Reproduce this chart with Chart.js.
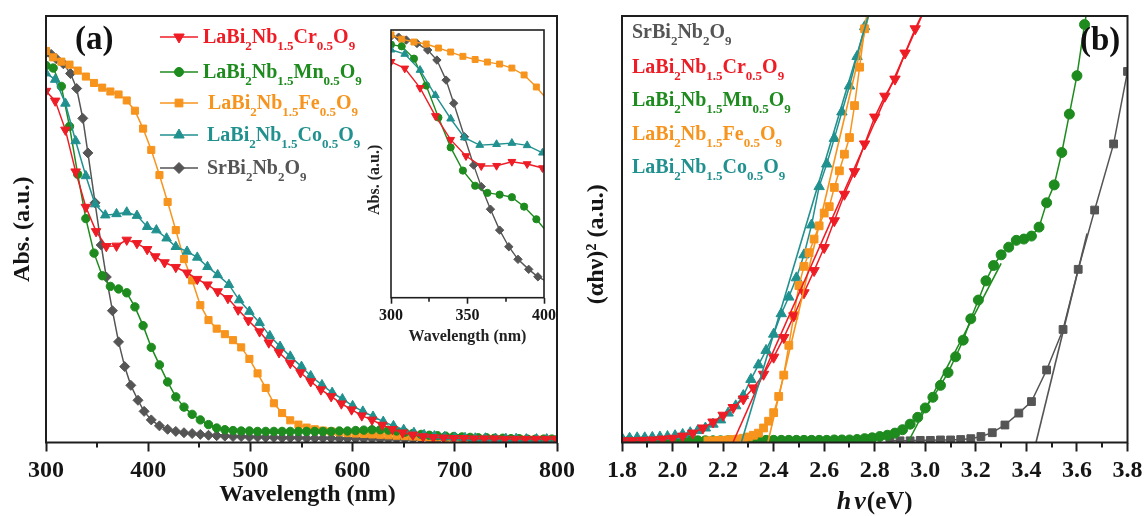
<!DOCTYPE html>
<html><head><meta charset="utf-8">
<script src="https://cdn.jsdelivr.net/npm/chart.js@4.4.1/dist/chart.umd.min.js"></script>
<style>
html,body{margin:0;padding:0;background:#fff;overflow:hidden;width:1144px;height:516px;}
canvas{position:absolute;}
#ca{left:0;top:0;} #cb{left:575px;top:0;} #ci{left:350px;top:0;}
</style></head><body>
<canvas id="ca" width="580" height="516"></canvas>
<canvas id="cb" width="575" height="516"></canvas>
<canvas id="ci" width="215" height="360"></canvas>
<script>
// ---------- Panel (a): absorbance vs wavelength ----------
const aSrX = [300,305,310,317,324,330,336,341,348,354,359,365,371,377,383,390,396,403,411,419,427,435,443,451,459,467,475,483,491,499,507,515,523,531,539,547,555,563,571,579,587,595,603,611,619,627,635,643,651,659,667,675,683,691,699,707,715,723,731,739,747,755,763,771,779,787,795];
const aSrY = [0.913,0.910,0.900,0.888,0.865,0.830,0.760,0.679,0.562,0.463,0.388,0.309,0.236,0.178,0.134,0.099,0.073,0.053,0.039,0.031,0.026,0.023,0.021,0.019,0.017,0.016,0.015,0.014,0.014,0.013,0.013,0.012,0.012,0.011,0.011,0.011,0.010,0.010,0.010,0.010,0.009,0.009,0.009,0.009,0.009,0.008,0.008,0.008,0.008,0.008,0.008,0.007,0.007,0.007,0.007,0.007,0.007,0.007,0.006,0.006,0.006,0.006,0.006,0.006,0.006,0.006,0.006];

const aMnX = [300,307,315,323,331,339,347,355,363,371,379,387,395,403,411,419,427,435,443,451,459,467,475,483,491,499,507,515,523,531,539,547,555,563,571,579,587,595,603,611,619,627,635,643,651,659,667,675,683,691,699,707,715,723,731,739,747,755,763,771,779,787,795];
const aMnY = [0.884,0.878,0.835,0.741,0.629,0.525,0.444,0.391,0.366,0.360,0.351,0.318,0.274,0.223,0.182,0.142,0.107,0.083,0.066,0.053,0.042,0.034,0.030,0.028,0.027,0.027,0.026,0.026,0.026,0.026,0.026,0.026,0.026,0.026,0.026,0.026,0.027,0.027,0.028,0.029,0.030,0.030,0.029,0.027,0.024,0.021,0.019,0.017,0.016,0.015,0.014,0.013,0.012,0.011,0.011,0.010,0.010,0.009,0.009,0.008,0.008,0.008,0.008];

const aFeX = [300,307,315,323,331,339,347,355,363,371,379,387,395,403,411,419,427,435,443,451,459,467,475,483,491,499,507,515,523,531,539,547,555,563,571,579,587,595,603,611,619,627,635,643,651,659,667,675,683,691,699,707,715,723,731,739,747,755,763,771,779,787,795];
const aFeY = [0.918,0.903,0.893,0.886,0.872,0.858,0.843,0.832,0.823,0.816,0.802,0.778,0.736,0.686,0.627,0.564,0.498,0.430,0.380,0.322,0.287,0.267,0.254,0.240,0.223,0.196,0.162,0.128,0.092,0.069,0.052,0.042,0.035,0.031,0.028,0.026,0.024,0.022,0.021,0.020,0.019,0.018,0.017,0.016,0.015,0.014,0.013,0.012,0.012,0.011,0.011,0.010,0.010,0.009,0.009,0.009,0.008,0.008,0.008,0.007,0.007,0.007,0.007];

const aCrX = [300,309,319,329,339,349,359,369,379,389,399,407,416,427,438,448,458,468,478,488,498,509,518,528,539,549,559,569,579,589,599,609,619,629,639,649,659,669,679,689,699,709,719,729,739,749,759,769,779,789,799];
const aCrY = [0.824,0.801,0.733,0.635,0.552,0.495,0.460,0.461,0.475,0.467,0.453,0.436,0.422,0.411,0.398,0.383,0.370,0.354,0.338,0.311,0.286,0.260,0.234,0.211,0.186,0.164,0.143,0.124,0.108,0.091,0.077,0.063,0.053,0.041,0.031,0.023,0.018,0.014,0.012,0.011,0.010,0.010,0.009,0.009,0.009,0.008,0.008,0.008,0.008,0.008,0.008];

const aCoX = [300,309,319,329,339,348,358,369,379,389,399,408,418,427,438,448,458,468,479,489,499,509,519,529,539,550,559,570,580,590,600,610,620,630,640,650,660,670,680,690,700,710,720,730,740,750,760,770,780,790,800];
const aCoY = [0.866,0.851,0.795,0.707,0.625,0.559,0.533,0.536,0.540,0.532,0.506,0.498,0.479,0.459,0.448,0.434,0.412,0.393,0.370,0.334,0.307,0.281,0.250,0.225,0.202,0.178,0.156,0.135,0.117,0.102,0.086,0.073,0.061,0.049,0.039,0.030,0.023,0.018,0.015,0.013,0.012,0.011,0.010,0.010,0.009,0.009,0.009,0.008,0.008,0.008,0.008];

const aTicksMinor = [350,450,550,650,750];
const insetTicksMinor = [325,375];

// ---------- Panel (b): Tauc plot ----------
const bCoX = [1.80,1.83,1.86,1.89,1.92,1.95,1.98,2.01,2.04,2.07,2.10,2.13,2.16,2.19,2.22,2.25,2.28,2.31,2.34,2.37,2.40,2.43,2.46,2.49,2.52,2.55,2.58,2.61,2.64,2.67,2.70,2.73,2.76,2.79];
const bCoY = [0.010,0.010,0.011,0.011,0.012,0.013,0.014,0.016,0.019,0.023,0.028,0.034,0.043,0.053,0.069,0.086,0.110,0.148,0.182,0.216,0.254,0.302,0.341,0.386,0.440,0.510,0.600,0.653,0.713,0.775,0.836,0.905,0.975,1.040];

const bCrX = [1.80,1.84,1.88,1.92,1.96,2.00,2.04,2.08,2.12,2.16,2.20,2.24,2.28,2.32,2.36,2.40,2.44,2.48,2.52,2.56,2.60,2.64,2.68,2.72,2.76,2.80,2.84,2.88,2.92,2.96,3.00];
const bCrY = [0.004,0.004,0.005,0.006,0.008,0.010,0.015,0.022,0.034,0.048,0.064,0.082,0.102,0.128,0.160,0.200,0.246,0.297,0.351,0.403,0.457,0.520,0.582,0.635,0.700,0.763,0.812,0.852,0.913,0.970,1.020];

const bFeX = [2.14,2.16,2.18,2.20,2.22,2.24,2.26,2.28,2.30,2.32,2.34,2.36,2.38,2.40,2.42,2.44,2.46,2.48,2.50,2.52,2.54,2.56,2.58,2.60,2.62,2.64,2.66,2.68,2.70,2.72,2.74,2.76,2.78];
const bFeY = [0.004,0.004,0.005,0.005,0.006,0.007,0.008,0.010,0.013,0.017,0.022,0.034,0.050,0.070,0.108,0.158,0.228,0.298,0.368,0.413,0.445,0.477,0.508,0.538,0.553,0.598,0.637,0.676,0.715,0.790,0.880,0.970,1.050];

const bMnX = [1.80,1.83,1.86,1.89,1.92,1.95,1.98,2.01,2.04,2.07,2.10,2.13,2.16,2.19,2.22,2.25,2.28,2.31,2.34,2.37,2.40,2.43,2.46,2.49,2.52,2.55,2.58,2.61,2.64,2.67,2.70,2.73,2.76,2.79,2.82,2.85,2.88,2.91,2.94,2.97,3.00,3.03,3.06,3.09,3.12,3.15,3.18,3.21,3.24,3.27,3.30,3.33,3.36,3.39,3.42,3.45,3.48,3.51,3.54,3.57,3.60,3.63,3.66];
const bMnY = [0.004,0.004,0.004,0.004,0.004,0.004,0.004,0.004,0.004,0.004,0.004,0.004,0.004,0.004,0.004,0.004,0.004,0.004,0.005,0.005,0.005,0.005,0.005,0.005,0.005,0.005,0.005,0.005,0.006,0.006,0.006,0.007,0.009,0.011,0.014,0.017,0.022,0.030,0.043,0.059,0.081,0.106,0.134,0.164,0.201,0.240,0.290,0.334,0.379,0.415,0.440,0.458,0.474,0.477,0.484,0.505,0.562,0.604,0.680,0.770,0.860,0.980,1.080];

const bSrX = [2.86,2.90,2.94,2.98,3.02,3.06,3.10,3.14,3.18,3.22,3.265,3.315,3.37,3.42,3.48,3.545,3.605,3.67,3.745,3.80];
const bSrY = [0.004,0.004,0.004,0.005,0.005,0.006,0.006,0.007,0.009,0.014,0.023,0.041,0.069,0.096,0.170,0.265,0.406,0.545,0.700,0.870];

// linear fits (band-gap extrapolation): [x0, x1], [y0, y1]
const fitCoX = [2.272, 2.775], fitCoY = [0, 1.0];
const fitCrX = [2.239, 2.986], fitCrY = [0, 1.0];
const fitFeX = [2.377, 2.775], fitFeY = [0, 1.0];
const fitMnX = [2.931, 3.300], fitMnY = [0, 0.42];
const fitSrX = [3.438, 3.640], fitSrY = [0, 0.49];

const bTicksMinor = [1.9,2.1,2.3,2.5,2.7,2.9,3.1,3.3,3.5,3.7];

const legendA = ['LaBi_{2}Nb_{1.5}Cr_{0.5}O_{9}','LaBi_{2}Nb_{1.5}Mn_{0.5}O_{9}','LaBi_{2}Nb_{1.5}Fe_{0.5}O_{9}','LaBi_{2}Nb_{1.5}Co_{0.5}O_{9}','SrBi_{2}Nb_{2}O_{9}'];
const legendB = ['SrBi_{2}Nb_{2}O_{9}','LaBi_{2}Nb_{1.5}Cr_{0.5}O_{9}','LaBi_{2}Nb_{1.5}Mn_{0.5}O_{9}','LaBi_{2}Nb_{1.5}Fe_{0.5}O_{9}','LaBi_{2}Nb_{1.5}Co_{0.5}O_{9}'];

// ---------- styling ----------
const SERIF = "'Liberation Serif','Times New Roman',serif";
Chart.defaults.font.family = SERIF;
Chart.defaults.color = '#151515';
const COL = {cr:'#ee1c25', mn:'#1e8b1e', fe:'#f7941d', co:'#21918f', sr:'#555555'};
const INK = '#1e1e1e';

function pts(xs, ys){ return xs.map((x,i)=>({x:x, y:ys[i]})); }
function series(label, xs, ys, color, style, r, rot, bw){
  return {label, data: pts(xs,ys), borderColor: color, backgroundColor: color,
    pointBackgroundColor: color, pointBorderColor: color, pointStyle: style,
    pointRadius: r, pointHoverRadius: r, pointRotation: rot||0, pointBorderWidth: 1,
    borderWidth: bw||1.5, tension: 0};
}
function fitLine(label, xs, ys, color){
  return {label, data: pts(xs,ys), borderColor: color, backgroundColor: color, pointRadius: 0, borderWidth: 1.6, tension: 0};
}
function parseRich(s){
  const out=[]; const re=/_\{([^}]*)\}/g; let last=0, m;
  while((m=re.exec(s))){ if(m.index>last) out.push({t:s.slice(last,m.index)}); out.push({t:m[1],sub:true}); last=re.lastIndex; }
  if(last<s.length) out.push({t:s.slice(last)});
  return out;
}
function drawRich(ctx, x, y, str, size, subSize, color, subDy){
  let cx=x; ctx.fillStyle=color; ctx.textBaseline='alphabetic'; ctx.textAlign='left';
  parseRich(str).forEach(s=>{
    ctx.font = 'bold '+(s.sub?subSize:size)+'px '+SERIF;
    ctx.fillText(s.t, cx, y+(s.sub?subDy:0));
    cx += ctx.measureText(s.t).width;
  });
}
function marker(ctx, style, r, rot, x, y, color){
  ctx.save(); ctx.fillStyle=color; ctx.strokeStyle=color; ctx.lineWidth=1;
  Chart.helpers.drawPoint(ctx, {pointStyle:style, radius:r, rotation:rot||0, borderWidth:1}, x, y);
  ctx.restore();
}
const framePlugin = {
  id:'frame',
  afterDatasetsDraw(chart, args, o){
    const {ctx, chartArea:a} = chart; const xs = chart.scales.x;
    ctx.save(); ctx.strokeStyle=INK; ctx.lineWidth=o.lw;
    ctx.strokeRect(a.left, a.top, a.right-a.left, a.bottom-a.top);
    ctx.beginPath();
    (o.minor||[]).forEach(v=>{ const p=Math.round(xs.getPixelForValue(v)); ctx.moveTo(p,a.bottom); ctx.lineTo(p,a.bottom+o.minorLen); });
    ctx.stroke(); ctx.restore();
  }
};
function xAxis(min,max,step,size,tl,h,title,tpad,fmt,lw){
  return {type:'linear', min, max, position:'bottom',
    afterFit: s=>{ s.height=h; },
    ticks:{stepSize:step, font:{size, weight:'bold'}, color:'#151515', padding:tpad, maxRotation:0, autoSkip:false, callback: fmt||(v=>String(v))},
    grid:{display:true, drawOnChartArea:false, drawTicks:true, tickLength:tl, tickWidth:lw, tickColor:INK},
    border:{display:false},
    title: title};
}
function yAxis(min,max,w,title){
  return {type:'linear', min, max, afterFit: s=>{ s.width=w; },
    ticks:{display:false}, grid:{display:false}, border:{display:false}, title: title};
}
const baseOpts = {responsive:false, animation:false, devicePixelRatio:1, events:[],
  plugins:{legend:{display:false}, tooltip:{enabled:false}}};

// ---------- chart (a) ----------
const legendAStyle = [
  {c:COL.cr, s:'triangle', r:6, rot:180, tx:203, my:37},
  {c:COL.mn, s:'circle', r:4.5, rot:0, tx:203, my:72},
  {c:COL.fe, s:'rect', r:5.5, rot:0, tx:208, my:103},
  {c:COL.co, s:'triangle', r:6, rot:0, tx:207, my:135},
  {c:COL.sr, s:'rectRot', r:5.5, rot:0, tx:207, my:168}
];
const annotA = {id:'annotA', afterDraw(chart){
  const ctx=chart.ctx; ctx.save();
  legendA.forEach((t,i)=>{
    const st=legendAStyle[i];
    ctx.strokeStyle=st.c; ctx.lineWidth=1.6; ctx.beginPath(); ctx.moveTo(160,st.my); ctx.lineTo(198,st.my); ctx.stroke();
    marker(ctx, st.s, st.r, st.rot, 179, st.my, st.c);
    drawRich(ctx, st.tx, st.my+6, t, 20, 13, st.c, 7);
  });
  ctx.font='bold 33px '+SERIF; ctx.fillStyle='#111'; ctx.fillText('(a)', 75, 49);
  ctx.restore();
}};
new Chart(document.getElementById('ca'), {
  type:'line',
  data:{datasets:[
    series('LaBi2Nb1.5Cr0.5O9', aCrX, aCrY, COL.cr, 'triangle', 5.5, 180),
    series('LaBi2Nb1.5Co0.5O9', aCoX, aCoY, COL.co, 'triangle', 5.5, 0),
    series('LaBi2Nb1.5Mn0.5O9', aMnX, aMnY, COL.mn, 'circle', 4.2, 0),
    series('LaBi2Nb1.5Fe0.5O9', aFeX, aFeY, COL.fe, 'rect', 5, 0),
    series('SrBi2Nb2O9', aSrX, aSrY, COL.sr, 'rectRot', 5, 0)
  ]},
  options:Object.assign({}, baseOpts, {
    layout:{padding:{left:0, top:16, right:21, bottom:0}},
    scales:{
      x: xAxis(300,800,100,24,9,73.5,{display:true, text:'\u00a0\u00a0Wavelength (nm)', font:{size:24, weight:'bold'}, color:'#151515', padding:{top:0,bottom:7}}, 5, null, 2),
      y: yAxis(0,1,46,{display:true, text:'Abs. (a.u.)', font:{size:24, weight:'bold'}, color:'#151515', padding:{top:8,bottom:0}})
    },
    plugins:Object.assign({}, baseOpts.plugins, {frame:{lw:2, minor:aTicksMinor, minorLen:5}})
  }),
  plugins:[framePlugin, annotA]
});

// ---------- inset ----------
new Chart(document.getElementById('ci'), {
  type:'line',
  data:{datasets:[
    series('Cr', aCrX, aCrY, COL.cr, 'triangle', 4.5, 180, 1.4),
    series('Co', aCoX, aCoY, COL.co, 'triangle', 4.5, 0, 1.4),
    series('Mn', aMnX, aMnY, COL.mn, 'circle', 3.6, 0, 1.4),
    series('Fe', aFeX, aFeY, COL.fe, 'rect', 4.2, 0, 1.4),
    series('Sr', aSrX, aSrY, COL.sr, 'rectRot', 4.2, 0, 1.4)
  ]},
  options:Object.assign({}, baseOpts, {
    layout:{padding:{left:0, top:30, right:21, bottom:0}},
    scales:{
      x: xAxis(300,400,50,16,6,62.3,{display:true, text:'Wavelength (nm)', font:{size:16, weight:'bold'}, color:'#222', padding:{top:0,bottom:14}}, 3, null, 1.6),
      y: yAxis(0,0.935,41,{display:true, text:'Abs. (a.u.)\u00a0\u00a0\u00a0\u00a0\u00a0\u00a0\u00a0\u00a0', font:{size:16, weight:'bold'}, color:'#222', padding:{top:15,bottom:0}})
    },
    plugins:Object.assign({}, baseOpts.plugins, {frame:{lw:1.6, minor:insetTicksMinor, minorLen:4}})
  }),
  plugins:[framePlugin]
});

// ---------- chart (b) ----------
const legendBCol = [COL.sr, COL.cr, COL.mn, COL.fe, COL.co];
const legendBY = [38, 72.5, 106, 139.5, 173];
const annotB = {id:'annotB', afterDraw(chart){
  const ctx=chart.ctx; ctx.save();
  legendB.forEach((t,i)=> drawRich(ctx, 632-575, legendBY[i], t, 20, 13, legendBCol[i], 7));
  ctx.font='bold 33px '+SERIF; ctx.fillStyle='#111'; ctx.fillText('(b)', 1080-575, 50);
  const a = chart.chartArea; const cx = (a.left+a.right)/2;
  ctx.textBaseline='alphabetic';
  const p1='h', p2='\u03bd', p3='(eV)';
  ctx.font='italic bold 26px '+SERIF; const w1=ctx.measureText(p1).width+3, w2=ctx.measureText(p2).width+1;
  ctx.font='bold 25px '+SERIF; const w3=ctx.measureText(p3).width;
  let x0 = cx - (w1+w2+w3)/2;
  ctx.fillStyle='#151515';
  ctx.font='italic bold 26px '+SERIF; ctx.fillText(p1, x0, 509); ctx.fillText(p2, x0+w1, 509);
  ctx.font='bold 25px '+SERIF; ctx.fillText(p3, x0+w1+w2, 509);
  ctx.restore();
}};
new Chart(document.getElementById('cb'), {
  type:'line',
  data:{datasets:[
    fitLine('fit Co', fitCoX, fitCoY, COL.co),
    fitLine('fit Cr', fitCrX, fitCrY, COL.cr),
    fitLine('fit Fe', fitFeX, fitFeY, COL.fe),
    fitLine('fit Mn', fitMnX, fitMnY, COL.mn),
    fitLine('fit Sr', fitSrX, fitSrY, COL.sr),
    series('LaBi2Nb1.5Cr0.5O9', bCrX, bCrY, COL.cr, 'triangle', 6, 180),
    series('LaBi2Nb1.5Fe0.5O9', bFeX, bFeY, COL.fe, 'rect', 5.5, 0),
    series('LaBi2Nb1.5Co0.5O9', bCoX, bCoY, COL.co, 'triangle', 6, 0),
    series('LaBi2Nb1.5Mn0.5O9', bMnX, bMnY, COL.mn, 'circle', 5, 0),
    series('SrBi2Nb2O9', bSrX, bSrY, COL.sr, 'rect', 5.5, 0)
  ]},
  options:Object.assign({}, baseOpts, {
    layout:{padding:{left:0, top:16, right:22.5, bottom:0}},
    scales:{
      x: xAxis(1.8,3.8,0.2,24,9,73.5,{display:false}, 5, v=>Number(v).toFixed(1), 2),
      y: yAxis(0,1,47,{display:true, text:'(\u03b1h\u03bd)\u00b2 (a.u.)\u00a0\u00a0\u00a0\u00a0\u00a0', font:{size:24, weight:'bold'}, color:'#151515', padding:{top:7,bottom:0}})
    },
    plugins:Object.assign({}, baseOpts.plugins, {frame:{lw:2, minor:bTicksMinor, minorLen:5}})
  }),
  plugins:[framePlugin, annotB]
});
</script>
</body></html>
